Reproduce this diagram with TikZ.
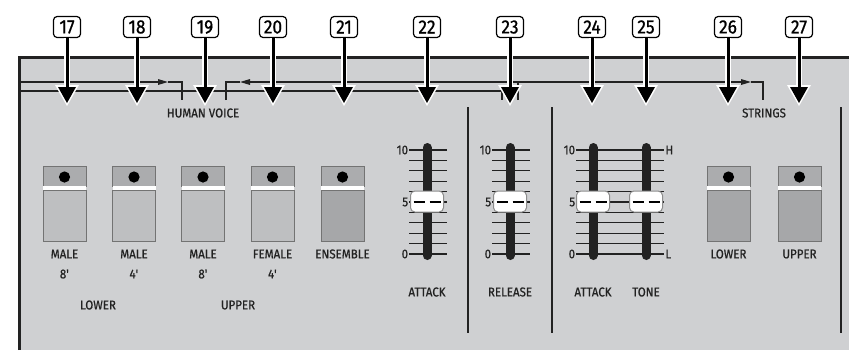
\documentclass[tikz,border=0pt]{standalone}
\usepackage{fontspec}
\setmainfont{Fira Sans}[FakeStretch=0.9,FakeBold=0.8]
\usetikzlibrary{arrows.meta}

\definecolor{panelgray}{HTML}{CFD0D2}
\definecolor{captop}{HTML}{ABACAE}
\definecolor{caplight}{HTML}{BEBFC1}
\definecolor{capdark}{HTML}{A6A7A9}
\definecolor{inkgray}{HTML}{222222}

\begin{document}
\begin{tikzpicture}[x=0.5pt,y=-0.5pt,>=latex,
  callout/.style={draw=black,fill=white,rounded corners=1.8pt,line width=0.6pt,
    minimum width=13.5pt,minimum height=10.5pt,inner sep=0pt,
    font=\fontsize{9.6}{10}\selectfont},
  halo/.style={draw=white,line width=2.8pt,shorten >=-1.5pt,
    -{Triangle[width=12pt,length=10.5pt,line width=0pt]}},
  pointer/.style={draw=black,line width=1.5pt,
    -{Triangle[width=9pt,length=8pt,line width=0pt]}},
  bracket/.style={draw=inkgray,line width=0.6pt},
  lbl/.style={font=\fontsize{6.4}{7}\selectfont,text=inkgray,inner sep=0pt},
  divider/.style={draw=inkgray,line width=0.7pt},
  swtop/.style={fill=captop,draw=black!55,line width=0.4pt},
  swlight/.style={fill=caplight,draw=black!55,line width=0.4pt},
  swdark/.style={fill=capdark,draw=black!55,line width=0.4pt},
  tick/.style={draw=inkgray,line width=0.55pt},
  major/.style={draw=inkgray,line width=1pt},
  track/.style={draw=inkgray,line width=4.5pt,line cap=round},
  knob/.style={fill=white,draw=black!45,line width=0.5pt,rounded corners=2.2pt},
  knobmark/.style={draw=black,line width=1.4pt,dash pattern=on 5.5pt off 2.5pt}]

\useasboundingbox (0,0) rectangle (849,350);

% Panel
\fill[panelgray] (19,57) rectangle (849,350);
\draw[inkgray,line width=1.5pt] (19,350) -- (19,57) -- (849,57);

% Section dividers
\draw[divider] (468,107) -- (468,333);
\draw[divider] (552,107) -- (552,333);
\draw[divider] (841,107) -- (841,333);

% Human voice / strings brackets
\draw[bracket] (19,91) -- (502,91) -- (502,100);
\draw[bracket,-{Triangle[length=5pt,width=2.8pt]}] (19,82) -- (168,82);
\draw[bracket] (168,82) -- (182,82) -- (182,100);
\draw[bracket] (226,100) -- (226,82) -- (240,82);
\draw[bracket,-{Triangle[length=5pt,width=2.8pt]}] (518,82) -- (240,82);
\draw[bracket,-{Triangle[length=5pt,width=2.8pt]}] (518,100) -- (518,82) -- (751,82);
\draw[bracket] (751,82) -- (763,82) -- (763,100);
\node[lbl] (hv) at (203,113) {HUMAN VOICE};
\node[lbl] (str) at (764,113) {STRINGS};

% Rocker switches
\filldraw[swtop] (43,166) rectangle (86,186);
\fill[white] (43,186) rectangle (86,190);
\filldraw[swlight] (43,190) rectangle (86,241);
\fill[black] (64.5,177) circle[radius=2.8pt];

\filldraw[swtop] (112.5,166) rectangle (155.5,186);
\fill[white] (112.5,186) rectangle (155.5,190);
\filldraw[swlight] (112.5,190) rectangle (155.5,241);
\fill[black] (134,177) circle[radius=2.8pt];

\filldraw[swtop] (181.5,166) rectangle (224.5,186);
\fill[white] (181.5,186) rectangle (224.5,190);
\filldraw[swlight] (181.5,190) rectangle (224.5,241);
\fill[black] (203,177) circle[radius=2.8pt];

\filldraw[swtop] (251,166) rectangle (294,186);
\fill[white] (251,186) rectangle (294,190);
\filldraw[swlight] (251,190) rectangle (294,241);
\fill[black] (272.5,177) circle[radius=2.8pt];

\filldraw[swtop] (321,166) rectangle (364,186);
\fill[white] (321,186) rectangle (364,190);
\filldraw[swdark] (321,190) rectangle (364,241);
\fill[black] (342.5,177) circle[radius=2.8pt];

\filldraw[swtop] (707,166) rectangle (750,186);
\fill[white] (707,186) rectangle (750,190);
\filldraw[swdark] (707,190) rectangle (750,241);
\fill[black] (728.5,177) circle[radius=2.8pt];

\filldraw[swtop] (778,166) rectangle (821,186);
\fill[white] (778,186) rectangle (821,190);
\filldraw[swdark] (778,190) rectangle (821,241);
\fill[black] (799.5,177) circle[radius=2.8pt];

% Switch labels
\node[lbl] (male1) at (64.5,254) {MALE};
\node[lbl] (male2) at (134,254) {MALE};
\node[lbl] (male3) at (203,254) {MALE};
\node[lbl] (female) at (272.5,254) {FEMALE};
\node[lbl] (ens) at (342.5,254) {ENSEMBLE};
\node[lbl] (feet1) at (64.5,274) {8\textquotesingle};
\node[lbl] (feet2) at (134,274) {4\textquotesingle};
\node[lbl] (feet3) at (203,274) {8\textquotesingle};
\node[lbl] (feet4) at (272.5,274) {4\textquotesingle};
\node[lbl] (lower) at (98,305) {LOWER};
\node[lbl] (upper) at (238,305) {UPPER};
\node[lbl] (strlow) at (728.5,254) {LOWER};
\node[lbl] (strup) at (799.5,254) {UPPER};

% Slider scales
\foreach \k in {1,...,9} {
  \draw[tick] (409,150+10.4*\k) -- (447,150+10.4*\k);
  \draw[tick] (492,150+10.4*\k) -- (530,150+10.4*\k);
  \draw[tick] (576,150+10.4*\k) -- (664,150+10.4*\k);
}
\draw[major] (409,150) -- (447,150);
\draw[major] (409,254) -- (447,254);
\draw[major] (492,150) -- (530,150);
\draw[major] (492,254) -- (530,254);
\draw[major] (576,150) -- (664,150);
\draw[major] (576,254) -- (664,254);

\node[lbl,anchor=east] at (408.5,150) {10};
\node[lbl,anchor=east] at (408.5,202) {5};
\node[lbl,anchor=east] at (408.5,254) {0};
\node[lbl,anchor=east] at (491.5,150) {10};
\node[lbl,anchor=east] at (491.5,202) {5};
\node[lbl,anchor=east] at (491.5,254) {0};
\node[lbl,anchor=east] at (575.5,150) {10};
\node[lbl,anchor=east] at (575.5,202) {5};
\node[lbl,anchor=east] at (575.5,254) {0};
\node[lbl,anchor=west] at (665,150) {H};
\node[lbl,anchor=west] at (665,254) {L};

% Slider tracks and knobs
\draw[track] (427,147.5) -- (427,255.5);
\draw[track] (510,147.5) -- (510,255.5);
\draw[track] (593,147.5) -- (593,255.5);
\draw[track] (646,147.5) -- (646,255.5);

\filldraw[knob] (410.5,191) rectangle (443.5,212);
\draw[knobmark] (413.5,202) -- (440.5,202);
\filldraw[knob] (493.5,191) rectangle (526.5,212);
\draw[knobmark] (496.5,202) -- (523.5,202);
\filldraw[knob] (576.5,191) rectangle (609.5,212);
\draw[knobmark] (579.5,202) -- (606.5,202);
\filldraw[knob] (629.5,191) rectangle (662.5,212);
\draw[knobmark] (632.5,202) -- (659.5,202);

\node[lbl] (atk1) at (427,292) {ATTACK};
\node[lbl] (rel) at (510,292) {RELEASE};
\node[lbl] (atk2) at (593,292) {ATTACK};
\node[lbl] (tone) at (646,292) {TONE};

% Numbered callouts
\node[callout] (c17) at (67,27) {17};
\node[callout] (c18) at (137,27) {18};
\node[callout] (c19) at (205,27) {19};
\node[callout] (c20) at (273,27) {20};
\node[callout] (c21) at (344,27) {21};
\node[callout] (c22) at (427,27) {22};
\node[callout] (c23) at (510,27) {23};
\node[callout] (c24) at (592,27) {24};
\node[callout] (c25) at (646,27) {25};
\node[callout] (c26) at (728,27) {26};
\node[callout] (c27) at (799,27) {27};

\coordinate (t17) at (67,103);
\coordinate (t18) at (137,103);
\coordinate (t19) at (205,103);
\coordinate (t20) at (273,103);
\coordinate (t21) at (344,103);
\coordinate (t22) at (427,103);
\coordinate (t23) at (510,103);
\coordinate (t24) at (592,103);
\coordinate (t25) at (646,103);
\coordinate (t26) at (728,103);
\coordinate (t27) at (799,103);

\draw[halo] (c17) -- (t17);  \draw[pointer] (c17) -- (t17);
\draw[halo] (c18) -- (t18);  \draw[pointer] (c18) -- (t18);
\draw[halo] (c19) -- (t19);  \draw[pointer] (c19) -- (t19);
\draw[halo] (c20) -- (t20);  \draw[pointer] (c20) -- (t20);
\draw[halo] (c21) -- (t21);  \draw[pointer] (c21) -- (t21);
\draw[halo] (c22) -- (t22);  \draw[pointer] (c22) -- (t22);
\draw[halo] (c23) -- (t23);  \draw[pointer] (c23) -- (t23);
\draw[halo] (c24) -- (t24);  \draw[pointer] (c24) -- (t24);
\draw[halo] (c25) -- (t25);  \draw[pointer] (c25) -- (t25);
\draw[halo] (c26) -- (t26);  \draw[pointer] (c26) -- (t26);
\draw[halo] (c27) -- (t27);  \draw[pointer] (c27) -- (t27);

\end{tikzpicture}
\end{document}
